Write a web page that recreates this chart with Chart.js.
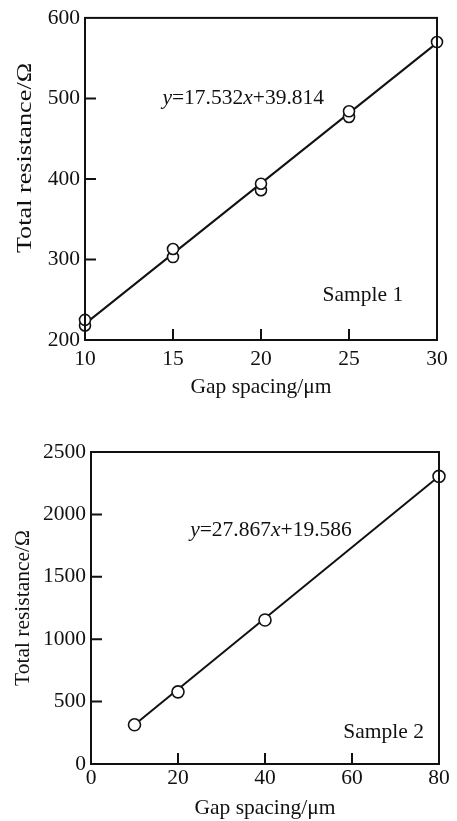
<!DOCTYPE html>
<html>
<head>
<meta charset="utf-8">
<script src="https://cdn.jsdelivr.net/npm/chart.js@4.4.0/dist/chart.umd.min.js"></script>
<style>
  html, body { margin: 0; padding: 0; background: #fff; }
  #w1 { position: absolute; left: 0; top: 0; width: 457px; height: 400px; }
  #w2 { position: absolute; left: 0; top: 400px; width: 457px; height: 421px; }
</style>
</head>
<body>
<div id="w1"><canvas id="c1"></canvas></div>
<div id="w2"><canvas id="c2"></canvas></div>
<script>
// ---- Data ----
const sample1Gap = [10, 10, 15, 15, 20, 20, 25, 25, 30];
const sample1Res = [218, 225, 303, 313, 386, 394, 477, 484, 570];
const fit1Gap = [10, 30];
const fit1Res = [220, 569];

const sample2Gap = [10, 20, 40, 80];
const sample2Res = [314, 578, 1154, 2305];
const fit2Gap = [10, 80];
const fit2Res = [314, 2305];

const eq1Parts = [["y", true], ["=17.532", false], ["x", true], ["+39.814", false]];
const eq2Parts = [["y", true], ["=27.867", false], ["x", true], ["+19.586", false]];
const label1 = "Sample 1";
const label2 = "Sample 2";
const xTitle = "Gap spacing/\u03bcm";
const yTitle = "Total resistance/\u03a9";

const FONT = "'Liberation Serif', 'Times New Roman', serif";
const INK = "#111";
const FS = 21.5;
const LW = 2;

function pts(xs, ys) { return xs.map((x, i) => ({ x: x, y: ys[i] })); }

const decorPlugin = {
  id: 'decor',
  afterDatasetsDraw(chart, args, opts) {
    const ctx = chart.ctx;
    const a = chart.chartArea;
    const xs = chart.scales.x, ys = chart.scales.y;
    ctx.save();
    ctx.strokeStyle = INK;
    ctx.lineWidth = LW;
    ctx.strokeRect(a.left, a.top, a.right - a.left, a.bottom - a.top);
    const tl = opts.tickLen;
    ctx.beginPath();
    xs.ticks.forEach(t => {
      if (t.value <= xs.min || t.value >= xs.max) return;
      const px = xs.getPixelForValue(t.value);
      ctx.moveTo(px, a.bottom);
      ctx.lineTo(px, a.bottom - tl);
    });
    ys.ticks.forEach(t => {
      if (t.value <= ys.min || t.value >= ys.max) return;
      const py = ys.getPixelForValue(t.value);
      ctx.moveTo(a.left, py);
      ctx.lineTo(a.left + tl, py);
    });
    ctx.stroke();
    ctx.fillStyle = INK;
    ctx.textBaseline = 'middle';
    ctx.textAlign = 'left';
    let ex = xs.getPixelForValue(opts.eqAt[0]);
    const ey = ys.getPixelForValue(opts.eqAt[1]);
    opts.eq.forEach(([s, it]) => {
      ctx.font = (it ? 'italic ' : '') + FS + 'px ' + FONT;
      ctx.fillText(s, ex, ey);
      ex += ctx.measureText(s).width;
    });
    ctx.font = FS + 'px ' + FONT;
    ctx.fillText(opts.label, xs.getPixelForValue(opts.labelAt[0]), ys.getPixelForValue(opts.labelAt[1]));
    if (opts.yTitle) {
      const t = opts.yTitle;
      ctx.translate(t.x, (a.top + a.bottom) / 2 + t.dy);
      ctx.rotate(-Math.PI / 2);
      ctx.scale(t.stretch, 1);
      ctx.textAlign = 'center';
      ctx.fillText(yTitle, 0, 0);
    }
    ctx.restore();
  }
};

function makeChart(id, cfg) {
  const tickFont = { family: FONT, size: FS };
  return new Chart(document.getElementById(id), {
    type: 'scatter',
    data: {
      datasets: [
        {
          data: pts(cfg.fitX, cfg.fitY),
          showLine: true,
          borderColor: INK,
          borderWidth: LW,
          pointRadius: 0,
          clip: false,
          order: 2
        },
        {
          data: pts(cfg.x, cfg.y),
          showLine: false,
          pointStyle: 'circle',
          pointRadius: cfg.r,
          pointBackgroundColor: '#fff',
          pointBorderColor: INK,
          pointBorderWidth: 1.6,
          clip: false,
          order: 1
        }
      ]
    },
    options: {
      responsive: true,
      maintainAspectRatio: false,
      animation: false,
      events: [],
      layout: { padding: cfg.pad },
      plugins: {
        legend: { display: false },
        tooltip: { enabled: false },
        decor: cfg.decor
      },
      scales: {
        x: {
          type: 'linear',
          min: cfg.xMin, max: cfg.xMax,
          grid: { drawOnChartArea: false, drawTicks: false },
          border: { display: true, color: INK, width: LW },
          ticks: { stepSize: cfg.xStep, color: INK, font: tickFont, padding: cfg.xPad, maxRotation: 0,
                   callback: v => String(v) },
          title: { display: true, text: xTitle, color: INK, font: tickFont, padding: { top: 0, bottom: 0 } },
          afterFit(s) { s.height = cfg.xH; }
        },
        y: {
          type: 'linear',
          min: cfg.yMin, max: cfg.yMax,
          grid: { drawOnChartArea: false, drawTicks: false },
          border: { display: true, color: INK, width: LW },
          ticks: { stepSize: cfg.yStep, color: INK, font: tickFont, padding: 5,
                   callback: v => String(v) },
          title: { display: cfg.yTitleBuiltIn, text: yTitle, color: INK, font: tickFont,
                   padding: { top: cfg.yTitlePad, bottom: 0 } },
          afterFit(s) { s.width = cfg.yW; }
        }
      }
    },
    plugins: [decorPlugin]
  });
}

makeChart('c1', {
  x: sample1Gap, y: sample1Res, fitX: fit1Gap, fitY: fit1Res, r: 5.5,
  xMin: 10, xMax: 30, xStep: 5, yMin: 200, yMax: 600, yStep: 100,
  pad: { left: 0, top: 15, right: 20, bottom: 0 },
  xH: 60, yW: 85, yTitlePad: 13, yTitleBuiltIn: false, xPad: 6,
  decor: { tickLen: 11, eq: eq1Parts, eqAt: [14.4, 500], label: label1, labelAt: [23.5, 255],
           yTitle: { x: 25, dy: -21, stretch: 1.22 } }
});

makeChart('c2', {
  x: sample2Gap, y: sample2Res, fitX: fit2Gap, fitY: fit2Res, r: 6,
  xMin: 0, xMax: 80, xStep: 20, yMin: 0, yMax: 2500, yStep: 500,
  pad: { left: 0, top: 52, right: 18, bottom: 0 },
  xH: 57, yW: 91, yTitlePad: 10.5, yTitleBuiltIn: true, xPad: 1,
  decor: { tickLen: 11, eq: eq2Parts, eqAt: [22.8, 1875], label: label2, labelAt: [58, 256] }
});
</script>
</body>
</html>
